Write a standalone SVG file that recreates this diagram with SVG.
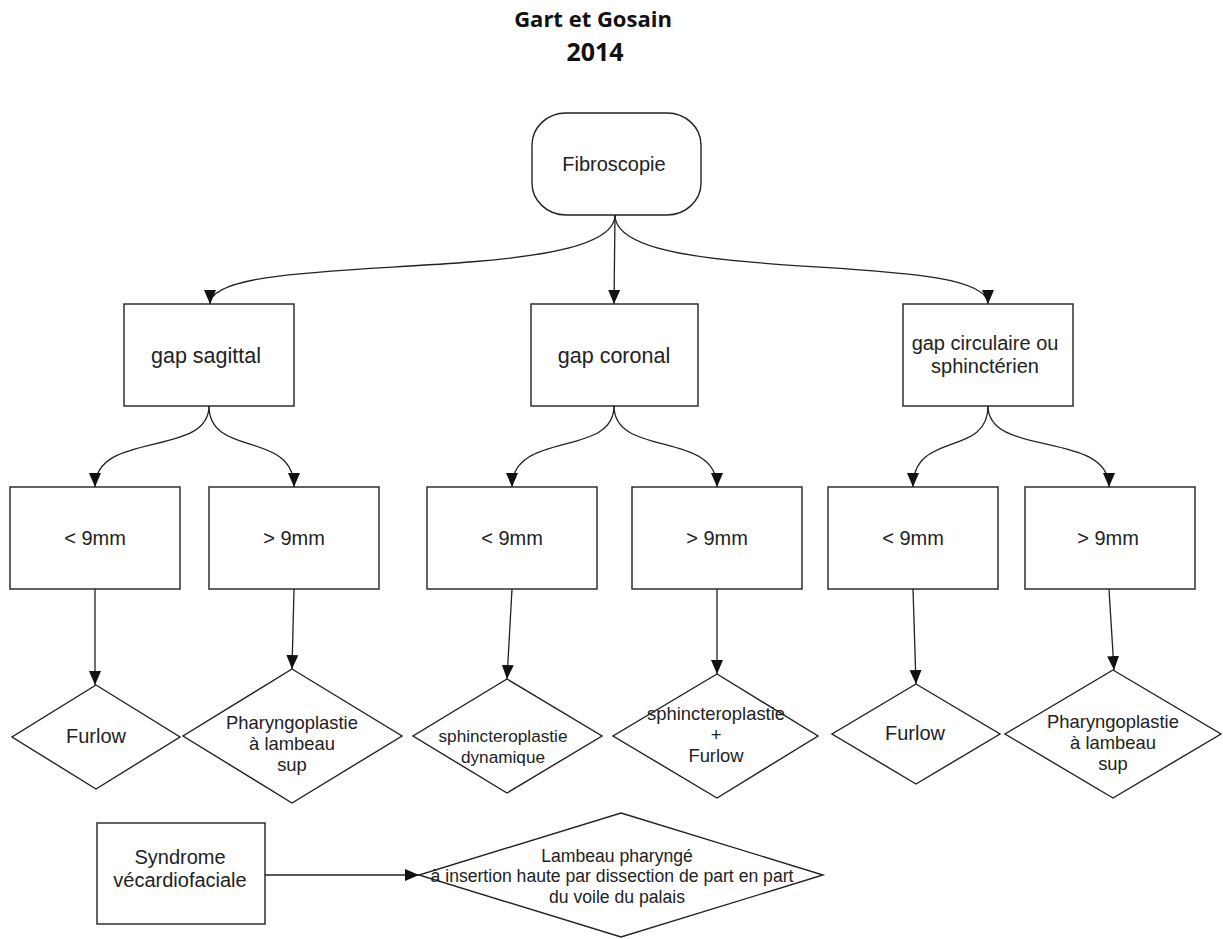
<svg xmlns="http://www.w3.org/2000/svg" width="1223" height="939" viewBox="0 0 1223 939">
<style>
.shape{fill:#fff;stroke:#222;stroke-width:1.4}
.conn{fill:none;stroke:#222;stroke-width:1.3}
.t{font-family:"Liberation Sans",Arial,sans-serif;font-size:20px;fill:#222;text-anchor:middle}
.s22{font-size:21.5px}
.s18{font-size:18.4px}
.s17{font-size:17.2px}
.s15{font-size:17.6px}
.title{font-family:"Open Sans","Liberation Sans",sans-serif;font-weight:bold;fill:#111;text-anchor:middle}
</style>
<defs>
<marker id="arr" markerUnits="userSpaceOnUse" markerWidth="14" markerHeight="16" viewBox="0 0 14 16" refX="14" refY="6" orient="auto">
<path d="M0,0 L14,6 L0,12 Z" fill="#111"/>
</marker>
</defs>
<rect width="1223" height="939" fill="#fff"/>
<text class="title" x="593" y="27" style="font-size:22px">Gart et Gosain</text>
<text class="title" x="595" y="61" style="font-size:25px">2014</text>

<g id="connectors">
<path class="conn" d="M615,215 C615,288 210,248 210,304" marker-end="url(#arr)"/>
<path class="conn" d="M615,215 L614,304" marker-end="url(#arr)"/>
<path class="conn" d="M615,215 C615,288 988,248 988,304" marker-end="url(#arr)"/>
<path class="conn" d="M209,406 C209,458 95,430 95,487" marker-end="url(#arr)"/>
<path class="conn" d="M209,406 C209,458 294,430 294,487" marker-end="url(#arr)"/>
<path class="conn" d="M614,406 C614,458 512,430 512,487" marker-end="url(#arr)"/>
<path class="conn" d="M614,406 C614,458 717,430 717,487" marker-end="url(#arr)"/>
<path class="conn" d="M988,406 C988,458 913,430 913,487" marker-end="url(#arr)"/>
<path class="conn" d="M988,406 C988,458 1109,430 1109,487" marker-end="url(#arr)"/>
<path class="conn" d="M95,589 L95,685" marker-end="url(#arr)"/>
<path class="conn" d="M294,589 L292,669" marker-end="url(#arr)"/>
<path class="conn" d="M512,589 L507,679" marker-end="url(#arr)"/>
<path class="conn" d="M717,589 L717,674" marker-end="url(#arr)"/>
<path class="conn" d="M913,589 L916,684" marker-end="url(#arr)"/>
<path class="conn" d="M1109,589 L1114,670" marker-end="url(#arr)"/>
<path class="conn" d="M265,875 L419,875" marker-end="url(#arr)"/>
</g>

<g id="fibroscopie">
<rect class="shape" x="532" y="113" width="169" height="102" rx="34" ry="32"/>
<text class="t" x="614" y="171">Fibroscopie</text>
</g>

<g id="gap-sagittal">
<rect class="shape" x="124" y="304" width="170" height="102"/>
<text class="t s22" x="206" y="363">gap sagittal</text>
</g>
<g id="gap-coronal">
<rect class="shape" x="531" y="304" width="167" height="102"/>
<text class="t s22" x="614" y="363">gap coronal</text>
</g>
<g id="gap-circulaire">
<rect class="shape" x="903" y="304" width="170" height="102"/>
<text class="t" x="985" y="350">gap circulaire ou</text>
<text class="t" x="985" y="373">sphinctérien</text>
</g>

<g id="sag-inf">
<rect class="shape" x="10" y="487" width="170" height="102"/>
<text class="t" x="95" y="545">&lt; 9mm</text>
</g>
<g id="sag-sup">
<rect class="shape" x="209" y="487" width="170" height="102"/>
<text class="t" x="294" y="545">&gt; 9mm</text>
</g>
<g id="cor-inf">
<rect class="shape" x="427" y="487" width="170" height="102"/>
<text class="t" x="512" y="545">&lt; 9mm</text>
</g>
<g id="cor-sup">
<rect class="shape" x="632" y="487" width="170" height="102"/>
<text class="t" x="717" y="545">&gt; 9mm</text>
</g>
<g id="circ-inf">
<rect class="shape" x="828" y="487" width="170" height="102"/>
<text class="t" x="913" y="545">&lt; 9mm</text>
</g>
<g id="circ-sup">
<rect class="shape" x="1025" y="487" width="170" height="102"/>
<text class="t" x="1108" y="545">&gt; 9mm</text>
</g>

<g id="furlow-1">
<polygon class="shape" points="96,685 180,737 96,789 12,737"/>
<text class="t" x="96" y="743">Furlow</text>
</g>
<g id="pharyngo-1">
<polygon class="shape" points="292,669 402,736 292,803 183,736"/>
<text class="t s18" x="292" y="729">Pharyngoplastie</text>
<text class="t s18" x="292" y="750">à lambeau</text>
<text class="t s18" x="292" y="771">sup</text>
</g>
<g id="sphincter-dyn">
<polygon class="shape" points="507,679 602,736 507,793 413,736"/>
<text class="t s17" x="503" y="742">sphincteroplastie</text>
<text class="t s17" x="503" y="763">dynamique</text>
</g>
<g id="sphincter-furlow">
<polygon class="shape" points="717,674 818,736 717,798 613,736"/>
<text class="t s18" x="716" y="720">sphincteroplastie</text>
<text class="t s18" x="716" y="741">+</text>
<text class="t s18" x="716" y="762">Furlow</text>
</g>
<g id="furlow-2">
<polygon class="shape" points="916,684 1000,734 916,784 832,734"/>
<text class="t" x="915" y="740">Furlow</text>
</g>
<g id="pharyngo-2">
<polygon class="shape" points="1113,670 1221,734 1113,798 1005,734"/>
<text class="t s18" x="1113" y="728">Pharyngoplastie</text>
<text class="t s18" x="1113" y="749">à lambeau</text>
<text class="t s18" x="1113" y="770">sup</text>
</g>

<g id="syndrome">
<rect class="shape" x="97" y="823" width="168" height="101"/>
<text class="t" x="180" y="864">Syndrome</text>
<text class="t" x="180" y="887">vécardiofaciale</text>
</g>
<g id="lambeau">
<polygon class="shape" points="621,813 823,875 621,937 419,875"/>
<text class="t s15" x="617" y="862">Lambeau pharyngé</text>
<text class="t s15" x="612" y="882">à insertion haute par dissection de part en part</text>
<text class="t s15" x="617" y="903">du voile du palais</text>
</g>
</svg>
